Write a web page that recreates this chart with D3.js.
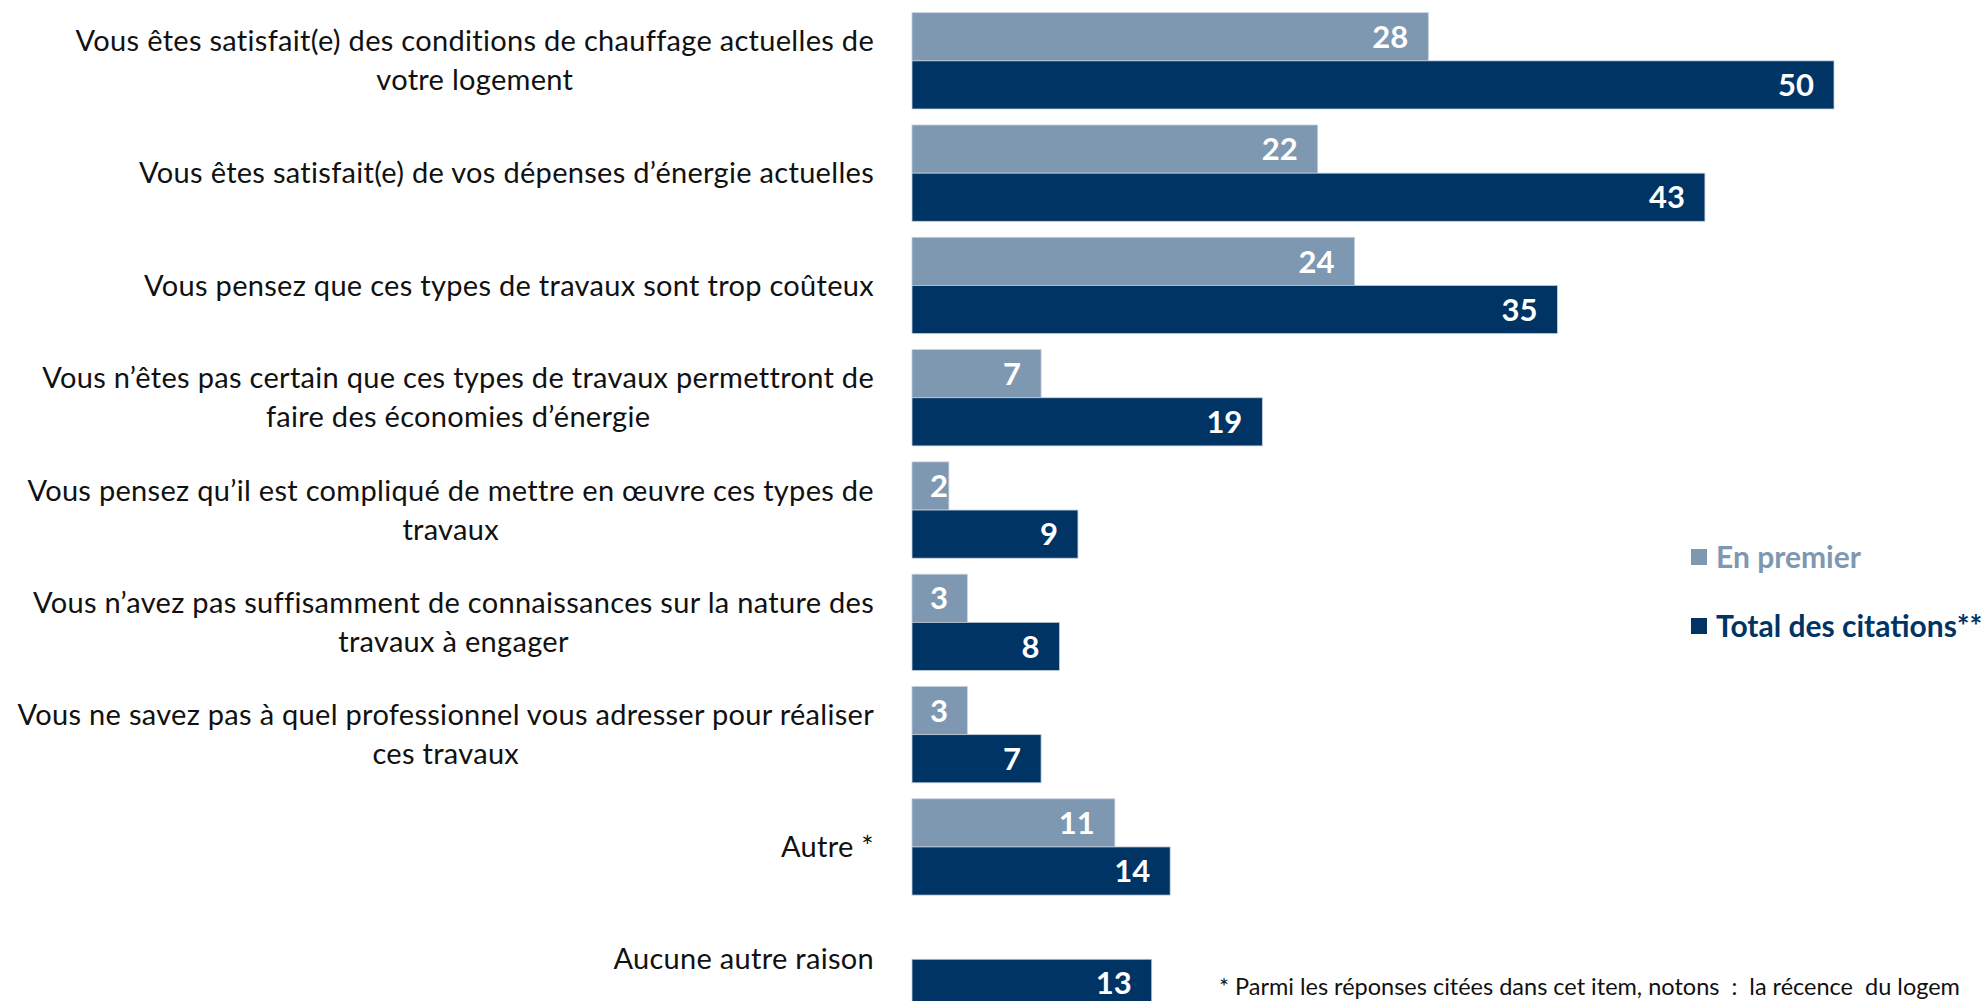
<!DOCTYPE html>
<html>
<head>
<meta charset="utf-8">
<script src="https://cdn.jsdelivr.net/npm/d3@7"></script>
<style>
  html, body { margin: 0; padding: 0; background: #fff; overflow: hidden; }
  svg { display: block; }
</style>
</head>
<body>
<div class="vis"></div>
<script>
'use strict';

// categories, each one split in the lines shown on the chart
var categories = [
  ['Vous êtes satisfait(e) des conditions de chauffage actuelles de', 'votre logement'],
  ['Vous êtes satisfait(e) de vos dépenses d’énergie actuelles'],
  ['Vous pensez que ces types de travaux sont trop coûteux'],
  ['Vous n’êtes pas certain que ces types de travaux permettront de', 'faire des économies d’énergie'],
  ['Vous pensez qu’il est compliqué de mettre en œuvre ces types de', 'travaux'],
  ['Vous n’avez pas suffisamment de connaissances sur la nature des', 'travaux à engager'],
  ['Vous ne savez pas à quel professionnel vous adresser pour réaliser', 'ces travaux'],
  ['Autre *'],
  ['Aucune autre raison']
];

// series values (%)
var enPremier = [28, 22, 24, 7, 2, 3, 3, 11, null];
var totalCitations = [50, 43, 35, 19, 9, 8, 7, 14, 13];

var seriesNames = ['En premier', 'Total des citations**'];
// footnote as far as the original shows it
var footnote = '* Parmi les réponses citées dans cet item, notons  :  la récence  du logem';

(function () {
  var width = 1987;
  var height = 1001;

  var lightColor = '#7f98b2';
  var darkColor = '#003465';

  var svg = d3.select('.vis')
    .append('svg')
    .attr('width', width)
    .attr('height', height);

  // horizontal value scale
  var x = d3.scaleLinear()
    .domain([0, 50])
    .range([912, 1834]);

  // one band per category, split in two for the series
  var step = 112.3;
  var padInner = 16 / step;
  var y = d3.scaleBand()
    .domain(d3.range(categories.length))
    .range([12.7, 12.7 + step * (categories.length - padInner)])
    .paddingInner(padInner)
    .paddingOuter(0);

  var ySub = d3.scaleBand()
    .domain([0, 1])
    .range([0, y.bandwidth()]);

  var rows = categories.map(function (lines, i) {
    return { i: i, lines: lines, values: [enPremier[i], totalCitations[i]] };
  });

  var groups = svg.selectAll('g.row')
    .data(rows)
    .enter()
    .append('g')
    .attr('class', 'row')
    .attr('transform', function (d) { return 'translate(0,' + y(d.i) + ')'; });

  var bars = groups.selectAll('g.bar')
    .data(function (d) {
      return d.values.map(function (v, s) { return { v: v, s: s }; })
        .filter(function (b) { return b.v != null; });
    })
    .enter()
    .append('g')
    .attr('class', 'bar');

  bars.append('rect')
    .attr('x', x(0))
    .attr('y', function (d) { return ySub(d.s); })
    .attr('width', function (d) { return x(d.v) - x(0); })
    .attr('height', ySub.bandwidth())
    .attr('fill', function (d) { return d.s === 0 ? lightColor : darkColor; })
    .attr('stroke', '#c3cfdc')
    .attr('stroke-width', 0.8);

  // value labels inside the bar end
  bars.append('text')
    .attr('x', function (d) { return Math.max(x(d.v) - 20, x(0) + 36); })
    .attr('y', function (d) { return ySub(d.s) + ySub.bandwidth() / 2; })
    .attr('dy', '0.36em')
    .attr('text-anchor', 'end')
    .attr('fill', '#fff')
    .style('font-family', 'Lato, sans-serif')
    .style('font-weight', 'bold')
    .style('font-size', '31px')
    .text(function (d) { return d.v; });

  // category labels: block right aligned, lines centered inside the block
  var labelRight = 874;
  var lineHeight = 39;

  groups.each(function (d) {
    var g = d3.select(this);
    var label = g.append('g').attr('class', 'label');
    var n = d.lines.length;
    var texts = label.selectAll('text')
      .data(d.lines)
      .enter()
      .append('text')
      .attr('y', function (l, k) { return y.bandwidth() / 2 + (k - (n - 1) / 2) * lineHeight; })
      .attr('dy', '0.35em')
      .attr('text-anchor', 'middle')
      .attr('fill', '#111')
      .style('font-family', 'Lato, sans-serif')
      .style('font-size', '29px')
      .style('letter-spacing', '0.3px')
      .text(function (l) { return l; });

    var maxW = d3.max(texts.nodes(), function (t) { return t.getComputedTextLength(); });
    texts.attr('x', labelRight - maxW / 2);
  });

  // legend
  var legend = svg.append('g')
    .attr('class', 'legend')
    .attr('transform', 'translate(1691,0)');

  var legendItems = legend.selectAll('g')
    .data(seriesNames)
    .enter()
    .append('g')
    .attr('transform', function (d, i) { return 'translate(0,' + (557 + i * 69) + ')'; });

  legendItems.append('rect')
    .attr('x', 0)
    .attr('y', -8)
    .attr('width', 16)
    .attr('height', 16)
    .attr('fill', function (d, i) { return i === 0 ? lightColor : darkColor; });

  legendItems.append('text')
    .attr('x', 25)
    .attr('y', 0)
    .attr('dy', '0.36em')
    .attr('fill', function (d, i) { return i === 0 ? lightColor : darkColor; })
    .style('font-family', 'Lato, sans-serif')
    .style('font-weight', 'bold')
    .style('font-size', '30px')
    .text(function (d) { return d; });

  // footnote, reaching the right edge like in the original
  svg.append('text')
    .attr('x', 1219)
    .attr('y', 995)
    .attr('fill', '#111')
    .style('font-family', 'Lato, sans-serif')
    .style('font-size', '23.5px')
    .style('white-space', 'pre')
    .text(footnote);
})();
</script>
</body>
</html>
